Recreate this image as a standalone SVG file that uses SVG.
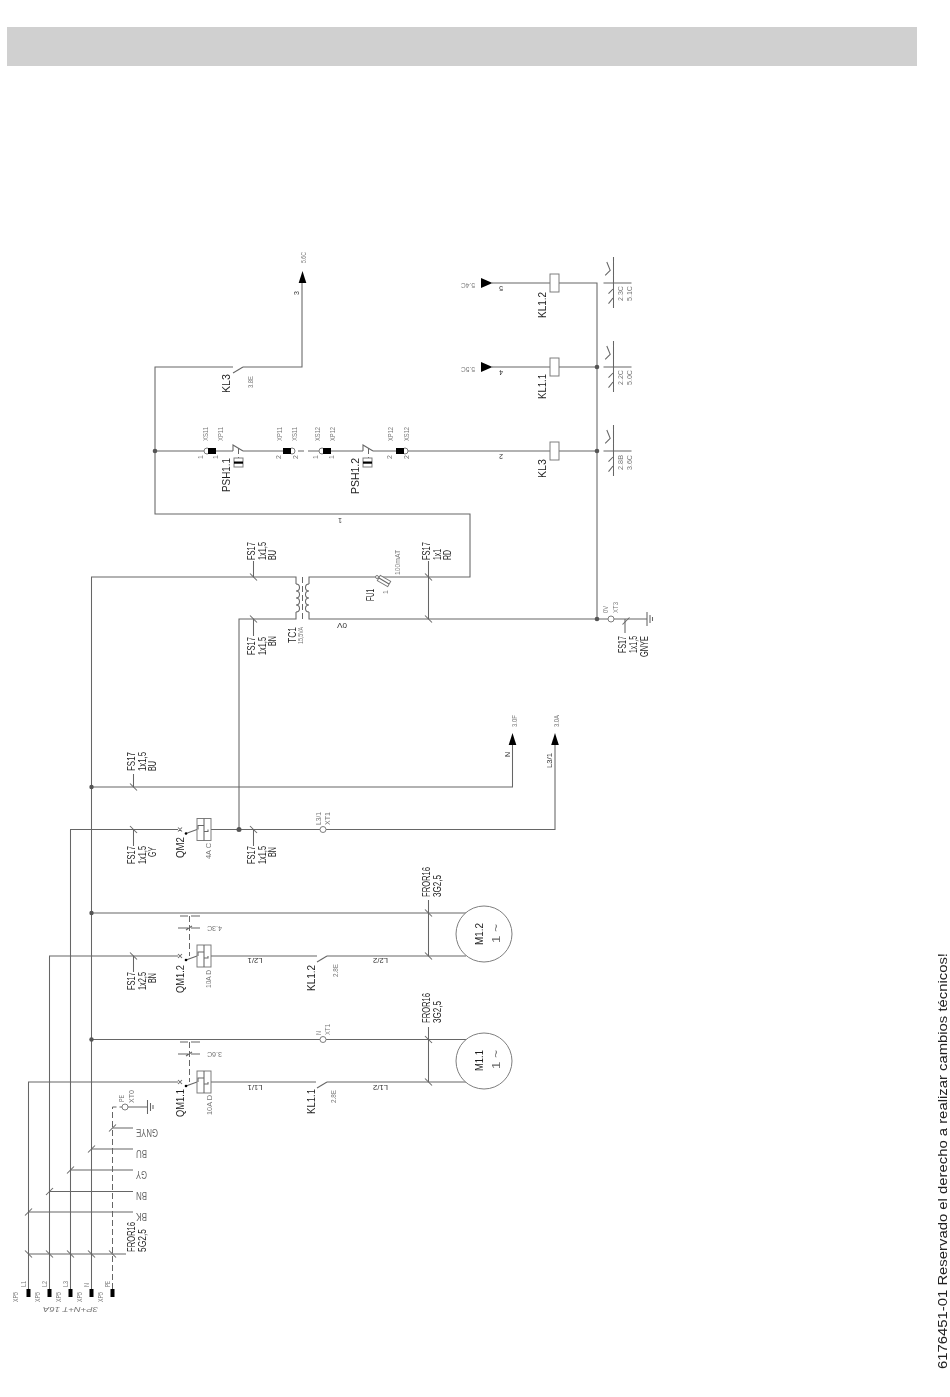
<svg xmlns="http://www.w3.org/2000/svg" width="950" height="1397" viewBox="0 0 950 1397">
<style>
.w{fill:none;stroke:#666;stroke-width:1.05}
.d{fill:none;stroke:#666;stroke-width:1;stroke-dasharray:6 3}
.b{fill:#fff;stroke:#777;stroke-width:.95}
.k{fill:#000}
.j{fill:#555}
text{font-family:"Liberation Sans",Arial,sans-serif}
.t{font-size:11px;fill:#1e1e1e}
.g{font-size:10px;fill:#666}
.s{font-size:7px;fill:#777}
.m{font-size:7px;fill:#333}
.n{font-size:11px;fill:#666}
</style>
<defs>
<filter id="soft" x="0" y="0" width="100%" height="100%" filterUnits="userSpaceOnUse"><feGaussianBlur stdDeviation="0.35"/></filter>
<path id="sd" class="w" d="M-3.5,-3.5L3.5,3.5"/>
<path id="su" class="w" d="M-3.5,3.5L3.5,-3.5"/>
<g id="aux"><path class="w" d="M0,-26V25M-10,0H18M-8.3,-7.7L-3.3,-12.7L-6.7,-21M-5,10.7L-.5,6M-5,20.7L-.5,15"/></g>
<g id="gnd"><path class="w" d="M0,-7V7M3,-4V4M5.5,-2V2"/></g>
<g id="qm"><path class="w" d="M-2,-2L2,2M-2,2L2,-2M6,4L17,0"/><circle cx="6" cy="4" r="1.3" class="k"/><rect x="17" y="-11" width="14" height="22" class="b"/><path class="w" d="M24,-11V11M18,0V-4H24V2H28V0"/></g>
<polygon id="au" class="k" points="0,0 3.8,12 -3.8,12"/>
<polygon id="ar" class="k" points="11.500,0 0,5 0,-5"/>
<g id="btn"><rect x="0" y="0" width="9" height="9" class="b"/><rect x="0" y="3.5" width="9" height="2.2" class="k"/></g>
</defs>
<rect id="header" x="7" y="27" width="910" height="39" fill="#d0d0d0"/>
<g id="drawing" filter="url(#soft)">
<g id="connectors">
<path class="w" d="M28.5,1289V1082H178M211,1082H316M327,1082H466"/>
<path class="w" d="M49.5,1289V956H178M211,956H317M327,956H466"/>
<path class="w" d="M70.5,1289V829.5H178M211,829.5H320M326,829.5H555V745"/>
<path class="w" d="M91.5,1289V577H296V584M91.5,1039.5H320M326,1039.5H466M91.5,913H466M91.5,787H512.5V745"/>
<path class="d" d="M112.5,1289V1107H122"/>
<path class="w" d="M128,1107H147.5"/>
<path class="w" d="M239,829.5V619H296V612"/>
<path class="w" d="M309,584V577H470V514H155V367H233M243,367H302V283"/>
<path class="w" d="M309,612V619H608M614,619H647M597,619V283H492M597,367H492"/>
<path class="w" d="M155,451H205M216,451H233M243,451H283M298,451H304M308,451H321M330,451H363M373,451H396M408,451H597"/>
<path class="w" d="M28.5,1254H126M28.5,1212H133M49.5,1191.5H133M70.5,1170H133M91.5,1149H133M112.5,1128H133"/>
<path class="w" d="M428.5,900V956M428.5,1027V1082M428.5,577V619"/>
<path class="w" d="M133.5,774V787M133.5,829.5V846M133.5,956V972M253.5,829.5V846M253.5,561V577M253.5,619V636M428.5,561V577M625,619V633"/>
<use href="#sd" x="28.5" y="1254"/><use href="#sd" x="49.5" y="1254"/><use href="#sd" x="70.5" y="1254"/><use href="#sd" x="91.5" y="1254"/><use href="#sd" x="112.5" y="1254"/>
<use href="#su" x="28.5" y="1212"/><use href="#su" x="49.5" y="1191.5"/><use href="#su" x="70.5" y="1170"/><use href="#su" x="91.5" y="1149"/><use href="#su" x="112.5" y="1128"/>
<use href="#sd" x="133.5" y="787"/><use href="#sd" x="133.5" y="829.5"/><use href="#sd" x="133.5" y="956"/><use href="#sd" x="253.5" y="829.5"/>
<use href="#sd" x="253.5" y="577"/><use href="#sd" x="253.5" y="619"/><use href="#sd" x="428.5" y="577"/><use href="#sd" x="428.5" y="619"/>
<use href="#sd" x="428.5" y="913"/><use href="#sd" x="428.5" y="956"/><use href="#sd" x="428.5" y="1039.5"/><use href="#sd" x="428.5" y="1082"/>
<use href="#su" x="626" y="621"/>
<circle cx="91.5" cy="1039.5" r="2.2" class="j"/><circle cx="91.5" cy="913" r="2.2" class="j"/><circle cx="91.5" cy="787" r="2.2" class="j"/>
<circle cx="239" cy="829.5" r="2.5" class="j"/><circle cx="155" cy="451" r="2.3" class="j"/><circle cx="597" cy="451" r="2.3" class="j"/><circle cx="597" cy="367" r="2.3" class="j"/><circle cx="597" cy="619" r="2.3" class="j"/>
</g>
<g id="XP5">
<rect x="26.5" y="1289" width="4" height="8" class="k"/><rect x="47.5" y="1289" width="4" height="8" class="k"/><rect x="68.5" y="1289" width="4" height="8" class="k"/><rect x="89.5" y="1289" width="4" height="8" class="k"/><rect x="110.5" y="1289" width="4" height="8" class="k"/>
<text class="s" transform="rotate(-90 26 1287)" x="26" y="1287" textLength="6" lengthAdjust="spacingAndGlyphs">L1</text>
<text class="s" transform="rotate(-90 47 1287)" x="47" y="1287" textLength="6" lengthAdjust="spacingAndGlyphs">L2</text>
<text class="s" transform="rotate(-90 68 1287)" x="68" y="1287" textLength="6" lengthAdjust="spacingAndGlyphs">L3</text>
<text class="s" transform="rotate(-90 89 1287)" x="89" y="1287" textLength="4" lengthAdjust="spacingAndGlyphs">N</text>
<text class="s" transform="rotate(-90 110 1287)" x="110" y="1287" textLength="6" lengthAdjust="spacingAndGlyphs">PE</text>
<text class="s" transform="rotate(-90 18 1302)" x="18" y="1302" textLength="10" lengthAdjust="spacingAndGlyphs">XP5</text>
<text class="s" transform="rotate(-90 40 1302)" x="40" y="1302" textLength="10" lengthAdjust="spacingAndGlyphs">XP5</text>
<text class="s" transform="rotate(-90 61 1302)" x="61" y="1302" textLength="10" lengthAdjust="spacingAndGlyphs">XP5</text>
<text class="s" transform="rotate(-90 82 1302)" x="82" y="1302" textLength="10" lengthAdjust="spacingAndGlyphs">XP5</text>
<text class="s" transform="rotate(-90 103 1302)" x="103" y="1302" textLength="10" lengthAdjust="spacingAndGlyphs">XP5</text>
<text class="s" transform="rotate(180 98 1307)" x="98" y="1307" textLength="55" lengthAdjust="spacingAndGlyphs" font-style="italic">3P+N+T 16A</text>
</g>
<g id="cable-FROR16-5G">
<text class="t" transform="rotate(-90 135 1252)" x="135" y="1252" textLength="30" lengthAdjust="spacingAndGlyphs">FROR16</text>
<text class="t" transform="rotate(-90 145.5 1252)" x="145.5" y="1252" textLength="23" lengthAdjust="spacingAndGlyphs">5G2,5</text>
<text class="g" transform="rotate(180 147 1213)" x="147" y="1213" textLength="11" lengthAdjust="spacingAndGlyphs">BK</text>
<text class="g" transform="rotate(180 147 1192)" x="147" y="1192" textLength="11" lengthAdjust="spacingAndGlyphs">BN</text>
<text class="g" transform="rotate(180 147 1171)" x="147" y="1171" textLength="11" lengthAdjust="spacingAndGlyphs">GY</text>
<text class="g" transform="rotate(180 147 1149.5)" x="147" y="1149.5" textLength="11" lengthAdjust="spacingAndGlyphs">BU</text>
<text class="g" transform="rotate(180 158 1128.5)" x="158" y="1128.5" textLength="22" lengthAdjust="spacingAndGlyphs">GNYE</text>
</g>
<g id="XT0">
<circle cx="125" cy="1107" r="3" class="b"/>
<use href="#gnd" x="147.5" y="1107"/>
<text class="s" transform="rotate(-90 124 1102)" x="124" y="1102" textLength="7" lengthAdjust="spacingAndGlyphs">PE</text>
<text class="s" transform="rotate(-90 134 1103)" x="134" y="1103" textLength="13" lengthAdjust="spacingAndGlyphs">XT0</text>
</g>
<g id="QM1.1">
<use href="#qm" x="180" y="1082"/>
<path class="d" d="M189.5,1042V1082" stroke-dasharray="3 2"/>
<path class="w" d="M180,1042H188M191,1042H200M178,1054H188M191,1054H200M186,1056L192,1052"/>
<text class="t" transform="rotate(-90 184 1117)" x="184" y="1117" textLength="28" lengthAdjust="spacingAndGlyphs">QM1.1</text>
<text class="s" transform="rotate(-90 212 1115)" x="212" y="1115" textLength="20" lengthAdjust="spacingAndGlyphs">10A D</text>
<text class="s" transform="rotate(180 222 1052)" x="222" y="1052" textLength="15" lengthAdjust="spacingAndGlyphs">3.6C</text>
</g>
<g id="QM1.2">
<use href="#qm" x="180" y="956"/>
<path class="d" d="M189.5,916V956" stroke-dasharray="3 2"/>
<path class="w" d="M180,916H188M191,916H200M178,928H188M191,928H200M186,930L192,926"/>
<text class="t" transform="rotate(-90 184 993)" x="184" y="993" textLength="28" lengthAdjust="spacingAndGlyphs">QM1.2</text>
<text class="s" transform="rotate(-90 211 988)" x="211" y="988" textLength="18" lengthAdjust="spacingAndGlyphs">10A D</text>
<text class="s" transform="rotate(180 222 926)" x="222" y="926" textLength="15" lengthAdjust="spacingAndGlyphs">4.3C</text>
</g>
<g id="QM2">
<use href="#qm" x="180" y="829.5"/>
<text class="t" transform="rotate(-90 184 858)" x="184" y="858" textLength="21" lengthAdjust="spacingAndGlyphs">QM2</text>
<text class="s" transform="rotate(-90 211 859)" x="211" y="859" textLength="16" lengthAdjust="spacingAndGlyphs">4A C</text>
</g>
<g id="cable-labels-FS17">
<text class="t" transform="rotate(-90 135 771)" x="135" y="771" textLength="19" lengthAdjust="spacingAndGlyphs">FS17</text>
<text class="t" transform="rotate(-90 145.5 771)" x="145.5" y="771" textLength="19" lengthAdjust="spacingAndGlyphs">1x1,5</text>
<text class="t" transform="rotate(-90 156 771)" x="156" y="771" textLength="10" lengthAdjust="spacingAndGlyphs">BU</text>
<text class="t" transform="rotate(-90 135 864)" x="135" y="864" textLength="18" lengthAdjust="spacingAndGlyphs">FS17</text>
<text class="t" transform="rotate(-90 145.5 864)" x="145.5" y="864" textLength="18" lengthAdjust="spacingAndGlyphs">1x1,5</text>
<text class="t" transform="rotate(-90 156 857)" x="156" y="857" textLength="10" lengthAdjust="spacingAndGlyphs">GY</text>
<text class="t" transform="rotate(-90 255 864)" x="255" y="864" textLength="18" lengthAdjust="spacingAndGlyphs">FS17</text>
<text class="t" transform="rotate(-90 265.5 864)" x="265.5" y="864" textLength="18" lengthAdjust="spacingAndGlyphs">1x1,5</text>
<text class="t" transform="rotate(-90 276 857)" x="276" y="857" textLength="10" lengthAdjust="spacingAndGlyphs">BN</text>
<text class="t" transform="rotate(-90 135 990)" x="135" y="990" textLength="18" lengthAdjust="spacingAndGlyphs">FS17</text>
<text class="t" transform="rotate(-90 145.5 990)" x="145.5" y="990" textLength="18" lengthAdjust="spacingAndGlyphs">1x2,5</text>
<text class="t" transform="rotate(-90 156 983)" x="156" y="983" textLength="10" lengthAdjust="spacingAndGlyphs">BN</text>
<text class="t" transform="rotate(-90 255 560)" x="255" y="560" textLength="18" lengthAdjust="spacingAndGlyphs">FS17</text>
<text class="t" transform="rotate(-90 265.5 560)" x="265.5" y="560" textLength="18" lengthAdjust="spacingAndGlyphs">1x1,5</text>
<text class="t" transform="rotate(-90 276 560)" x="276" y="560" textLength="10" lengthAdjust="spacingAndGlyphs">BU</text>
<text class="t" transform="rotate(-90 255 655)" x="255" y="655" textLength="18" lengthAdjust="spacingAndGlyphs">FS17</text>
<text class="t" transform="rotate(-90 265.5 655)" x="265.5" y="655" textLength="18" lengthAdjust="spacingAndGlyphs">1x1,5</text>
<text class="t" transform="rotate(-90 276 646)" x="276" y="646" textLength="10" lengthAdjust="spacingAndGlyphs">BN</text>
<text class="t" transform="rotate(-90 430 560)" x="430" y="560" textLength="18" lengthAdjust="spacingAndGlyphs">FS17</text>
<text class="t" transform="rotate(-90 440.5 560)" x="440.5" y="560" textLength="11" lengthAdjust="spacingAndGlyphs">1x1</text>
<text class="t" transform="rotate(-90 451 560)" x="451" y="560" textLength="10" lengthAdjust="spacingAndGlyphs">RD</text>
<text class="t" transform="rotate(-90 626 653)" x="626" y="653" textLength="17" lengthAdjust="spacingAndGlyphs">FS17</text>
<text class="t" transform="rotate(-90 637 653)" x="637" y="653" textLength="17" lengthAdjust="spacingAndGlyphs">1x1,5</text>
<text class="t" transform="rotate(-90 647.5 657)" x="647.5" y="657" textLength="21" lengthAdjust="spacingAndGlyphs">GNYE</text>
<text class="t" transform="rotate(-90 430 897)" x="430" y="897" textLength="30" lengthAdjust="spacingAndGlyphs">FROR16</text>
<text class="t" transform="rotate(-90 441 897)" x="441" y="897" textLength="22" lengthAdjust="spacingAndGlyphs">3G2,5</text>
<text class="t" transform="rotate(-90 430 1023)" x="430" y="1023" textLength="30" lengthAdjust="spacingAndGlyphs">FROR16</text>
<text class="t" transform="rotate(-90 441 1023)" x="441" y="1023" textLength="22" lengthAdjust="spacingAndGlyphs">3G2,5</text>
</g>
<g id="wire-labels">
<text class="m" transform="rotate(180 262.5 1085)" x="262.5" y="1085" textLength="15" lengthAdjust="spacingAndGlyphs">L1/1</text>
<text class="m" transform="rotate(180 262.5 958)" x="262.5" y="958" textLength="15" lengthAdjust="spacingAndGlyphs">L2/1</text>
<text class="m" transform="rotate(180 388 1085)" x="388" y="1085" textLength="15" lengthAdjust="spacingAndGlyphs">L1/2</text>
<text class="m" transform="rotate(180 388 958)" x="388" y="958" textLength="15" lengthAdjust="spacingAndGlyphs">L2/2</text>
<text class="m" transform="rotate(-90 510 757)" x="510" y="757" textLength="5">N</text>
<text class="m" transform="rotate(-90 552 768)" x="552" y="768" textLength="15" lengthAdjust="spacingAndGlyphs">L3/1</text>
<text class="m" transform="rotate(180 347 623)" x="347" y="623" textLength="10" lengthAdjust="spacingAndGlyphs">0V</text>
<text class="m" transform="rotate(180 342 518)" x="342" y="518">1</text>
<text class="m" transform="rotate(180 503 286)" x="503" y="286">5</text>
<text class="m" transform="rotate(180 503 370)" x="503" y="370">4</text>
<text class="m" transform="rotate(180 503 454)" x="503" y="454">2</text>
<text class="m" transform="rotate(-90 299 295)" x="299" y="295">3</text>
</g>
<g id="arrow-N"><use href="#au" x="512.5" y="733"/><text class="s" transform="rotate(-90 517 727)" x="517" y="727" textLength="12" lengthAdjust="spacingAndGlyphs">3.0F</text></g>
<g id="arrow-L3"><use href="#au" x="555" y="733"/><text class="s" transform="rotate(-90 558.5 727)" x="558.5" y="727" textLength="12" lengthAdjust="spacingAndGlyphs">3.0A</text></g>
<g id="arrow-3"><use href="#au" x="302.5" y="271"/><text class="s" transform="rotate(-90 306 263)" x="306" y="263" textLength="11" lengthAdjust="spacingAndGlyphs">5.6C</text></g>
<g id="arrow-5"><use href="#ar" x="481" y="283"/><text class="s" transform="rotate(180 475 283)" x="475" y="283" textLength="14" lengthAdjust="spacingAndGlyphs">5.4C</text></g>
<g id="arrow-4"><use href="#ar" x="481" y="367"/><text class="s" transform="rotate(180 475 367)" x="475" y="367" textLength="14" lengthAdjust="spacingAndGlyphs">5.5C</text></g>
<g id="XT1-L3">
<circle cx="323" cy="829.5" r="3" class="b"/>
<text class="s" transform="rotate(-90 321 825)" x="321" y="825" textLength="13" lengthAdjust="spacingAndGlyphs">L3/1</text>
<text class="s" transform="rotate(-90 330 825)" x="330" y="825" textLength="13" lengthAdjust="spacingAndGlyphs">XT1</text>
</g>
<g id="XT1-N">
<circle cx="323" cy="1039.5" r="3" class="b"/>
<text class="s" transform="rotate(-90 321 1035)" x="321" y="1035" textLength="4" lengthAdjust="spacingAndGlyphs">N</text>
<text class="s" transform="rotate(-90 330 1035)" x="330" y="1035" textLength="11" lengthAdjust="spacingAndGlyphs">XT1</text>
</g>
<g id="KL1.1-contact">
<path class="w" d="M317,1088L327,1082"/>
<text class="t" transform="rotate(-90 315 1114)" x="315" y="1114" textLength="25" lengthAdjust="spacingAndGlyphs">KL1.1</text>
<text class="s" transform="rotate(-90 336 1103)" x="336" y="1103" textLength="13" lengthAdjust="spacingAndGlyphs">2.8E</text>
</g>
<g id="KL1.2-contact">
<path class="w" d="M317,962L327,956"/>
<text class="t" transform="rotate(-90 315 991)" x="315" y="991" textLength="26" lengthAdjust="spacingAndGlyphs">KL1.2</text>
<text class="s" transform="rotate(-90 338 977)" x="338" y="977" textLength="13" lengthAdjust="spacingAndGlyphs">2.8E</text>
</g>
<g id="M1.1">
<circle cx="484" cy="1061" r="28" class="b"/>
<text class="t" transform="rotate(-90 483 1071)" x="483" y="1071" textLength="21" lengthAdjust="spacingAndGlyphs">M1.1</text>
<text class="n" transform="rotate(-90 500 1069)" x="500" y="1069" textLength="19" lengthAdjust="spacingAndGlyphs">1 ~</text>
</g>
<g id="M1.2">
<circle cx="484" cy="934" r="28" class="b"/>
<text class="t" transform="rotate(-90 483 945)" x="483" y="945" textLength="22" lengthAdjust="spacingAndGlyphs">M1.2</text>
<text class="n" transform="rotate(-90 500 943)" x="500" y="943" textLength="19" lengthAdjust="spacingAndGlyphs">1 ~</text>
</g>
<g id="TC1">
<path class="w" d="M296,584a3.5,3.5 0 0 1 0,7a3.5,3.5 0 0 1 0,7a3.5,3.5 0 0 1 0,7a3.5,3.5 0 0 1 0,7M309,584a3.5,3.5 0 0 0 0,7a3.5,3.5 0 0 0 0,7a3.5,3.5 0 0 0 0,7a3.5,3.5 0 0 0 0,7"/>
<path class="d" d="M302.5,577V620" stroke-dasharray="4 2"/>
<text class="t" transform="rotate(-90 296 643)" x="296" y="643" textLength="16" lengthAdjust="spacingAndGlyphs">TC1</text>
<text class="s" transform="rotate(-90 303 644)" x="303" y="644" textLength="17" lengthAdjust="spacingAndGlyphs">15,5VA</text>
</g>
<g id="FU1">
<circle cx="377" cy="577" r="1.5" class="b"/>
<rect x="378" y="578" width="12" height="6" class="b" transform="rotate(30 384 581)"/>
<path class="w" d="M379,578L389,584"/>
<text class="t" transform="rotate(-90 374 601)" x="374" y="601" textLength="12" lengthAdjust="spacingAndGlyphs">FU1</text>
<text class="s" transform="rotate(-90 400 575)" x="400" y="575" textLength="25" lengthAdjust="spacingAndGlyphs">100mAT</text>
<text class="s" transform="rotate(-90 388 594)" x="388" y="594">1</text>
</g>
<g id="XS11-XP11-1">
<circle cx="207" cy="451" r="3" class="b"/><rect x="208" y="448" width="8" height="6" class="k"/>
<text class="s" transform="rotate(-90 208 441)" x="208" y="441" textLength="14" lengthAdjust="spacingAndGlyphs">XS11</text>
<text class="s" transform="rotate(-90 223 441)" x="223" y="441" textLength="14" lengthAdjust="spacingAndGlyphs">XP11</text>
<text class="s" transform="rotate(-90 203 459)" x="203" y="459">1</text>
<text class="s" transform="rotate(-90 218 459)" x="218" y="459">1</text>
</g>
<g id="PSH1.1">
<path class="w" d="M233,451V445L243,451"/>
<path class="d" d="M238.5,448V458" stroke-dasharray="3 2"/>
<use href="#btn" x="234" y="458"/>
<text class="t" transform="rotate(-90 230 492)" x="230" y="492" textLength="34" lengthAdjust="spacingAndGlyphs">PSH1.1</text>
</g>
<g id="XP11-XS11-2">
<circle cx="292" cy="451" r="3" class="b"/><rect x="283" y="448" width="8" height="6" class="k"/>
<text class="s" transform="rotate(-90 282 441)" x="282" y="441" textLength="14" lengthAdjust="spacingAndGlyphs">XP11</text>
<text class="s" transform="rotate(-90 297 441)" x="297" y="441" textLength="14" lengthAdjust="spacingAndGlyphs">XS11</text>
<text class="s" transform="rotate(-90 281 459)" x="281" y="459">2</text>
<text class="s" transform="rotate(-90 298 459)" x="298" y="459">2</text>
</g>
<g id="XS12-XP12-1">
<circle cx="322" cy="451" r="3" class="b"/><rect x="323" y="448" width="8" height="6" class="k"/>
<text class="s" transform="rotate(-90 320 441)" x="320" y="441" textLength="14" lengthAdjust="spacingAndGlyphs">XS12</text>
<text class="s" transform="rotate(-90 335 441)" x="335" y="441" textLength="14" lengthAdjust="spacingAndGlyphs">XP12</text>
<text class="s" transform="rotate(-90 318 459)" x="318" y="459">1</text>
<text class="s" transform="rotate(-90 334 459)" x="334" y="459">1</text>
</g>
<g id="PSH1.2">
<path class="w" d="M363,451V445L373,451"/>
<path class="d" d="M368.5,448V458" stroke-dasharray="3 2"/>
<use href="#btn" x="363" y="458"/>
<text class="t" transform="rotate(-90 359 494)" x="359" y="494" textLength="36" lengthAdjust="spacingAndGlyphs">PSH1.2</text>
</g>
<g id="XP12-XS12-2">
<circle cx="405" cy="451" r="3" class="b"/><rect x="396" y="448" width="8" height="6" class="k"/>
<text class="s" transform="rotate(-90 393 441)" x="393" y="441" textLength="14" lengthAdjust="spacingAndGlyphs">XP12</text>
<text class="s" transform="rotate(-90 409 441)" x="409" y="441" textLength="14" lengthAdjust="spacingAndGlyphs">XS12</text>
<text class="s" transform="rotate(-90 392 459)" x="392" y="459">2</text>
<text class="s" transform="rotate(-90 409 459)" x="409" y="459">2</text>
</g>
<g id="KL3-contact">
<path class="w" d="M233,373L243,367"/>
<text class="t" transform="rotate(-90 230 393)" x="230" y="393" textLength="19" lengthAdjust="spacingAndGlyphs">KL3</text>
<text class="s" transform="rotate(-90 253 388)" x="253" y="388" textLength="12" lengthAdjust="spacingAndGlyphs">3.8E</text>
</g>
<g id="KL3-coil">
<rect x="550" y="442" width="9" height="18" class="b"/>
<text class="t" transform="rotate(-90 546 478)" x="546" y="478" textLength="19" lengthAdjust="spacingAndGlyphs">KL3</text>
<use href="#aux" x="613.5" y="451"/>
<text class="s" transform="rotate(-90 623 470)" x="623" y="470" textLength="15" lengthAdjust="spacingAndGlyphs">2.8B</text>
<text class="s" transform="rotate(-90 632 470)" x="632" y="470" textLength="15" lengthAdjust="spacingAndGlyphs">3.6C</text>
</g>
<g id="KL1.1-coil">
<rect x="550" y="358" width="9" height="18" class="b"/>
<text class="t" transform="rotate(-90 546 399)" x="546" y="399" textLength="25" lengthAdjust="spacingAndGlyphs">KL1.1</text>
<use href="#aux" x="613.5" y="367"/>
<text class="s" transform="rotate(-90 623 385)" x="623" y="385" textLength="15" lengthAdjust="spacingAndGlyphs">2.2C</text>
<text class="s" transform="rotate(-90 632 385)" x="632" y="385" textLength="15" lengthAdjust="spacingAndGlyphs">5.0C</text>
</g>
<g id="KL1.2-coil">
<rect x="550" y="274" width="9" height="18" class="b"/>
<text class="t" transform="rotate(-90 546 318)" x="546" y="318" textLength="26" lengthAdjust="spacingAndGlyphs">KL1.2</text>
<use href="#aux" x="613.5" y="283"/>
<text class="s" transform="rotate(-90 623 301)" x="623" y="301" textLength="15" lengthAdjust="spacingAndGlyphs">2.3C</text>
<text class="s" transform="rotate(-90 632 301)" x="632" y="301" textLength="15" lengthAdjust="spacingAndGlyphs">5.1C</text>
</g>
<g id="XT3">
<circle cx="611" cy="619" r="3" class="b"/>
<use href="#gnd" x="647" y="619"/>
<text class="s" transform="rotate(-90 608 613)" x="608" y="613" textLength="7" lengthAdjust="spacingAndGlyphs">0V</text>
<text class="s" transform="rotate(-90 618 613)" x="618" y="613" textLength="11" lengthAdjust="spacingAndGlyphs">XT3</text>
</g>
<text id="footer" transform="rotate(-90 947 1369)" x="947" y="1369" font-size="12.5" fill="#222" textLength="416" lengthAdjust="spacingAndGlyphs">6176451-01 Reservado el derecho a realizar cambios técnicos!</text>
</g>
</svg>
